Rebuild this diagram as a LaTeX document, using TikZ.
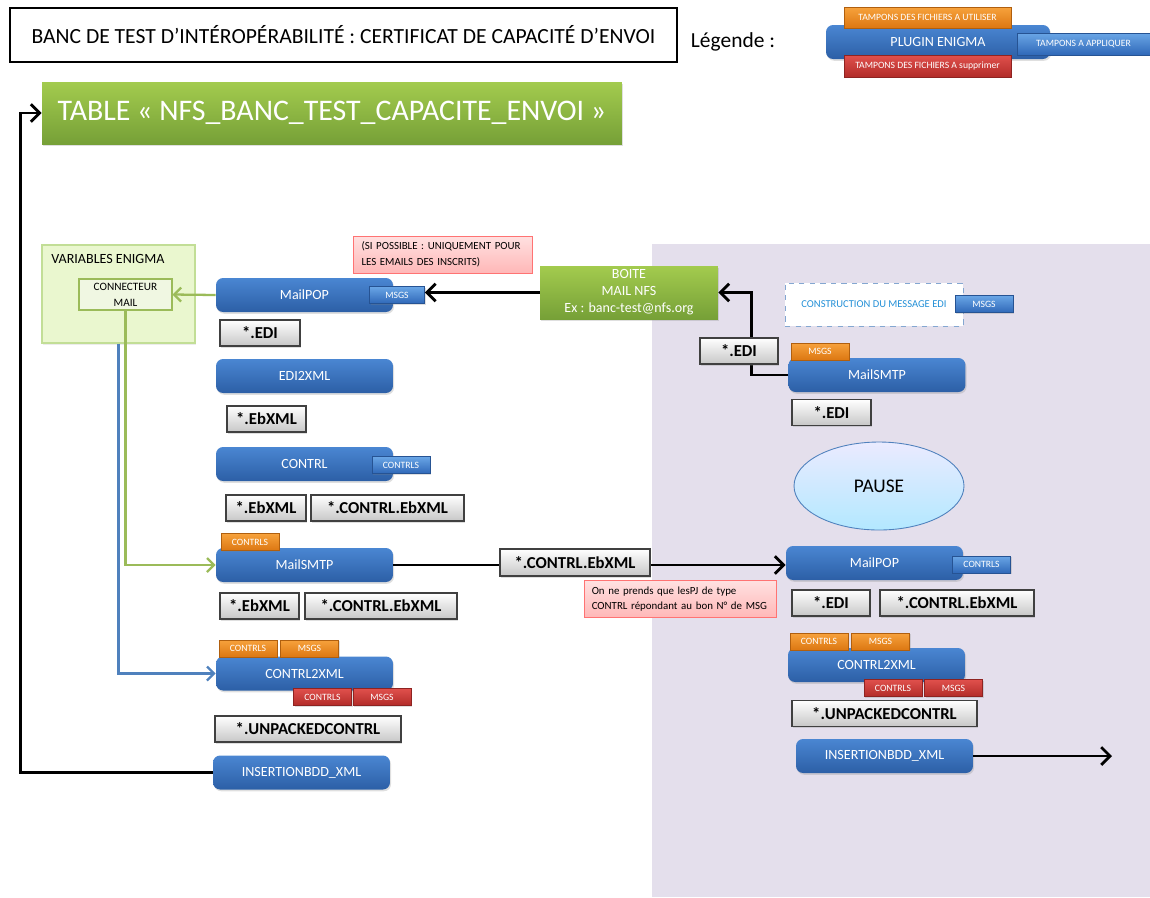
\documentclass[tikz,border=0pt]{standalone}
\usepackage{fontspec}
\setmainfont{Carlito}
\usetikzlibrary{arrows.meta,shapes.geometric,shadows}
\definecolor{procA}{HTML}{4A86D2}
\definecolor{procB}{HTML}{2C5FA6}
\definecolor{orA}{HTML}{F7A23C}
\definecolor{orB}{HTML}{DC7712}
\definecolor{rdA}{HTML}{E0504C}
\definecolor{rdB}{HTML}{B22C29}
\definecolor{blA}{HTML}{6AA6E6}
\definecolor{blB}{HTML}{2F68B8}
\definecolor{grA}{HTML}{A3CB4E}
\definecolor{grB}{HTML}{76A037}
\definecolor{panel}{HTML}{E4DFEC}
\definecolor{varFill}{HTML}{EAF7CF}
\definecolor{varLine}{HTML}{C2DE96}
\definecolor{lnGreen}{HTML}{9BBB59}
\definecolor{lnBlue}{HTML}{4F81BD}

\tikzset{
  proc/.style={rounded corners=4pt,top color=procA,bottom color=procB,text=white,
    minimum width=3.54cm,minimum height=0.68cm,inner sep=0pt,
    font=\fontsize{8}{9.6}\selectfont,
    drop shadow={opacity=0.25,shadow xshift=0.6pt,shadow yshift=-1pt}},
  tabx/.style={minimum width=1.16cm,minimum height=0.34cm,inner sep=0pt,text=white,
    line width=0.4pt,font=\fontsize{5.5}{6}\selectfont,
    drop shadow={opacity=0.25,shadow xshift=0.6pt,shadow yshift=-0.8pt}},
  tabo/.style={tabx,top color=orA,bottom color=orB,draw=orB!80!black},
  tabr/.style={tabx,top color=rdA,bottom color=rdB,draw=rdB!80!black},
  tabb/.style={tabx,top color=blA,bottom color=blB,draw=blB!80!black},
  fic/.style={top color=white,bottom color=black!22,draw=black!75,line width=0.8pt,
    minimum height=0.52cm,inner sep=0pt,font=\bfseries\fontsize{9.5}{11}\selectfont,
    drop shadow={opacity=0.25,shadow xshift=0.6pt,shadow yshift=-1pt}},
  note/.style={top color=red!12,bottom color=red!28,draw=red!55,line width=0.5pt,
    align=left,inner xsep=0.17cm,font=\fontsize{6.2}{9}\selectfont},
  boitev/.style={top color=grA,bottom color=grB,text=white,inner sep=0pt},
  flow/.style={line width=1.6pt,-{Straight Barb[length=5pt,width=10pt]}},
  fine/.style={line width=1.3pt,-{Straight Barb[length=4pt,width=8pt]}}
}

\begin{document}
\begin{tikzpicture}[x=0.02cm,y=-0.02cm]
\useasboundingbox (0,0) rectangle (1150,897);
\fill[panel] (652,244) rectangle (1150,897);

\node[draw,line width=1.2pt,minimum width=13.34cm,minimum height=1.08cm,
  font=\fontsize{12.3}{14}\selectfont] (titre) at (343.5,35)
  {BANC DE TEST D’INTÉROPÉRABILITÉ : CERTIFICAT DE CAPACITÉ D’ENVOI};
\node[font=\fontsize{12.2}{14}\selectfont] (leg) at (733,42) {Légende :};
\node[proc,minimum width=4.48cm] (plug) at (938,42) {PLUGIN ENIGMA};
\node[tabo,minimum width=3.34cm,minimum height=0.42cm] (legO) at (927.5,17.5) {TAMPONS DES FICHIERS A UTILISER};
\node[tabr,minimum width=3.34cm,minimum height=0.44cm] (legR) at (927.5,66) {TAMPONS DES FICHIERS A supprimer};
\node[tabb,minimum width=2.66cm,minimum height=0.44cm] (legB) at (1083.5,44) {TAMPONS A APPLIQUER};

\node[boitev,minimum width=11.6cm,minimum height=1.24cm,font=\fontsize{17}{20}\selectfont,
  drop shadow={opacity=0.25,shadow xshift=0.6pt,shadow yshift=-1pt}] (table) at (332,113)
  {TABLE « NFS\_BANC\_TEST\_CAPACITE\_ENVOI »};

\node[fill=varFill,draw=varLine,line width=0.6pt,minimum width=3.06cm,minimum height=1.96cm,
  drop shadow={opacity=0.15,shadow xshift=0.6pt,shadow yshift=-1pt},
  label={[anchor=north west,inner sep=0pt,xshift=0.19cm,yshift=-0.2cm,font=\fontsize{8}{9.6}\selectfont]north west:VARIABLES ENIGMA}]
  (var) at (118.5,294) {};
\node[fill=varFill!80!lnGreen!40,draw=lnGreen,line width=0.6pt,minimum width=1.86cm,minimum height=0.62cm,
  inner sep=0pt,align=center,font=\fontsize{6.4}{9}\selectfont] (cm) at (125.5,294.5) {CONNECTEUR\\MAIL};

\node[note,minimum width=3.58cm,minimum height=0.7cm,text width=3.24cm] (note1) at (442.5,254.5)
  {(SI POSSIBLE : UNIQUEMENT POUR\\LES EMAILS DES INSCRITS)};
\node[boitev,minimum width=3.56cm,minimum height=1.06cm,align=center,font=\fontsize{8}{9.7}\selectfont,
  drop shadow={opacity=0.25,shadow xshift=0.6pt,shadow yshift=-1pt}] (boite) at (629,292.5)
  {BOITE\\MAIL NFS\\Ex : banc-test@nfs.org};

\node[proc] (pop1) at (304.5,295) {MailPOP};
\node[tabb,minimum width=1.1cm] (tpop1) at (397,295) {MSGS};
\node[fic,minimum width=1.6cm] (edi1) at (260,333) {*.EDI};
\node[proc] (e2x) at (304.5,376) {EDI2XML};
\node[fic,minimum width=1.58cm] (ebx1) at (266.5,419) {*.EbXML};
\node[proc] (ctl) at (304.5,464) {CONTRL};
\node[tabb] (tctl) at (401,465) {CONTRLS};
\node[fic,minimum width=1.6cm] (ebx2) at (266,508) {*.EbXML};
\node[fic,minimum width=3.06cm] (cebx1) at (387.5,508) {*.CONTRL.EbXML};
\node[proc] (smtp1) at (304.5,565) {MailSMTP};
\node[tabo] (tsmtp1) at (250,542) {CONTRLS};
\node[fic,minimum width=1.58cm] (ebx3) at (259.5,606) {*.EbXML};
\node[fic,minimum width=3.04cm] (cebx2) at (381,606) {*.CONTRL.EbXML};
\node[proc] (c2x1) at (304.5,673.5) {CONTRL2XML};
\node[tabo] (oc1) at (248,648.5) {CONTRLS};
\node[tabo] (om1) at (309.5,648.5) {MSGS};
\node[tabr] (rc1) at (322.5,697) {CONTRLS};
\node[tabr] (rm1) at (382,697) {MSGS};
\node[fic,minimum width=3.72cm] (unp1) at (308,729) {*.UNPACKEDCONTRL};
\node[proc] (ins1) at (301.5,772.5) {INSERTIONBDD\_XML};

\node[draw=lnBlue!70,dashed,fill=white,minimum width=3.56cm,minimum height=0.86cm,
  text=cyan!70!blue!90,font=\fontsize{6}{7}\selectfont] (constr) at (874,304.5) {CONSTRUCTION DU MESSAGE EDI};
\node[tabb] (tconstr) at (984,304) {MSGS};
\node[proc] (smtp2) at (877,375) {MailSMTP};
\node[tabo] (tsmtp2) at (820,351.5) {MSGS};
\node[fic,minimum width=1.58cm] (edi3) at (831.5,412.5) {*.EDI};
\node[ellipse,top color=blue!8,bottom color=blue!30!cyan!30,draw=lnBlue,line width=0.5pt,
  minimum width=3.4cm,minimum height=1.76cm,font=\fontsize{11}{13}\selectfont] (pause) at (879,486) {PAUSE};
\node[proc] (pop2) at (874.5,563) {MailPOP};
\node[tabb] (tpop2) at (981.5,564.5) {CONTRLS};
\node[fic,minimum width=1.56cm] (edi4) at (831,603) {*.EDI};
\node[fic,minimum width=3.08cm] (cebx3) at (957,603) {*.CONTRL.EbXML};
\node[proc] (c2x2) at (876.5,665) {CONTRL2XML};
\node[tabo] (oc2) at (819,641.5) {CONTRLS};
\node[tabo] (om2) at (880.5,641.5) {MSGS};
\node[tabr] (rc2) at (893,688) {CONTRLS};
\node[tabr] (rm2) at (953.5,688) {MSGS};
\node[fic,minimum width=3.7cm] (unp2) at (884.5,713.5) {*.UNPACKEDCONTRL};
\node[proc] (ins2) at (884.5,756) {INSERTIONBDD\_XML};
\coordinate (fin) at (1112,756);

\node[note,minimum width=3.82cm,minimum height=0.68cm,text width=3.55cm,inner xsep=0.14cm] (note2) at (680.5,599)
  {On ne prends que lesPJ de type\\CONTRL répondant au bon N°~de~MSG};

\draw[fine,lnGreen] (pop1.west) -- (cm.east);
\draw[fine,lnGreen] (cm.south) |- (smtp1.west);
\draw[fine,lnBlue] (var.south) |- (c2x1.west);
\draw[flow] (boite.west) -- (boite.west -| tpop1.east);
\draw[flow] (smtp2.west) -- ++(-0.74cm,0) |- (boite.east);
\draw[flow] (smtp1.east) -- (smtp1.east -| pop2.west);
\draw[flow] (ins2.east) -- (fin);
\draw[flow] (ins1.west) -| ([xshift=-0.42cm]table.west) -- (table.west);

\node[fic,minimum width=1.56cm] (edi2) at (739,351) {*.EDI};
\node[fic,minimum width=3.0cm,minimum height=0.54cm] (cebxm) at (575,562.5) {*.CONTRL.EbXML};
\end{tikzpicture}
\end{document}
